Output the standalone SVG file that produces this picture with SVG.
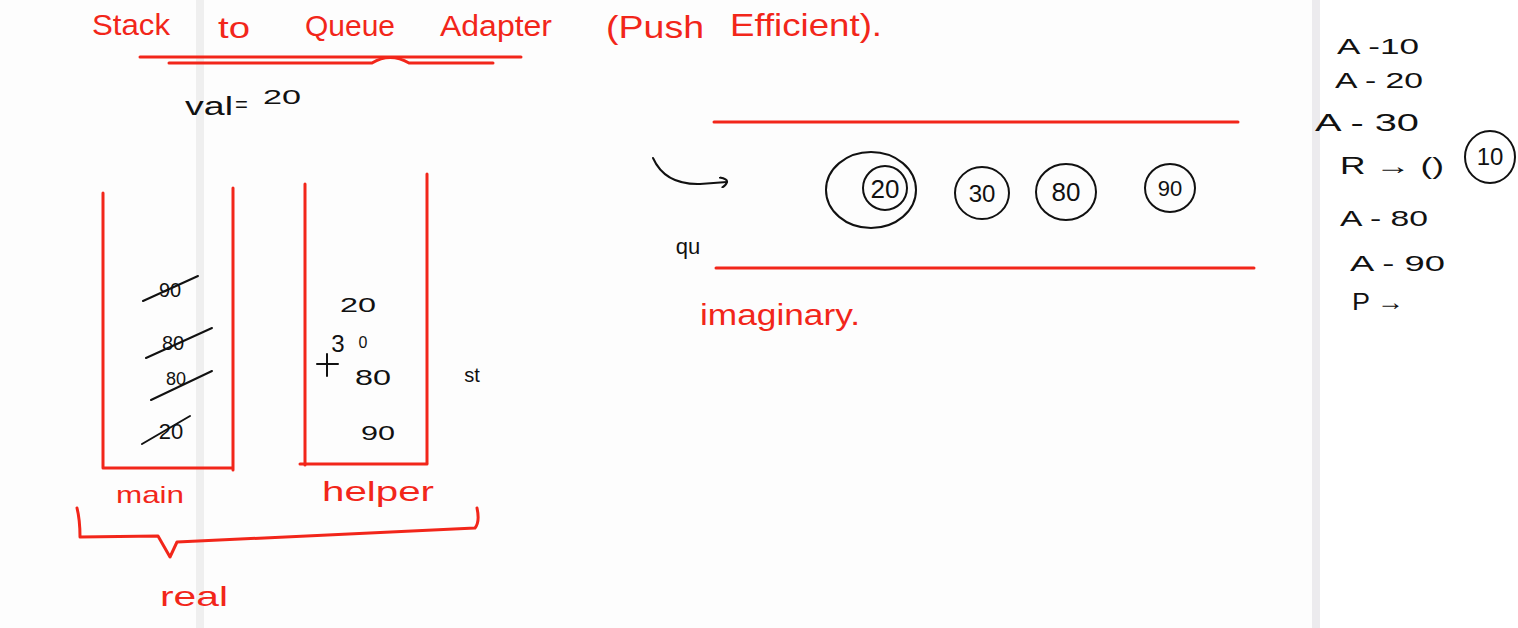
<svg xmlns="http://www.w3.org/2000/svg" width="1518" height="628" viewBox="0 0 1518 628">
<style>
.r{fill:#f2261a;font-family:"Liberation Sans",Arial,sans-serif;}
.k{fill:#111;font-family:"Liberation Sans",Arial,sans-serif;}
.rl{stroke:#f2261a;stroke-width:3;fill:none;stroke-linecap:round;stroke-linejoin:round;}
.kl{stroke:#111;stroke-width:2;fill:none;stroke-linecap:round;stroke-linejoin:round;}
</style>
<defs>
<marker id="hook" markerWidth="10" markerHeight="12" refX="8" refY="6" orient="auto" markerUnits="userSpaceOnUse">
<path d="M1,1 Q9,3 8,6 Q7,9 3,11" fill="none" stroke="#111" stroke-width="2" stroke-linecap="round"/>
</marker>
</defs>
<rect width="1518" height="628" fill="#fdfdfd"/>
<rect x="196" y="0" width="8" height="628" fill="#efefef"/>
<rect x="1312" y="0" width="8" height="628" fill="#ecebee"/>
<rect x="1320" y="0" width="198" height="628" fill="#ffffff"/>

<g id="title">
<text class="r" font-size="30" x="92" y="35" textLength="78" lengthAdjust="spacingAndGlyphs">Stack</text>
<text class="r" font-size="30" x="218" y="38" textLength="32" lengthAdjust="spacingAndGlyphs">to</text>
<text class="r" font-size="30" x="305" y="36" textLength="90" lengthAdjust="spacingAndGlyphs">Queue</text>
<text class="r" font-size="30" x="440" y="36" textLength="112" lengthAdjust="spacingAndGlyphs">Adapter</text>
<text class="r" font-size="32" x="606" y="38" textLength="98" lengthAdjust="spacingAndGlyphs">(Push</text>
<text class="r" font-size="32" x="730" y="36" textLength="152" lengthAdjust="spacingAndGlyphs">Efficient).</text>
<path class="rl" d="M140,57 L521,57"/>
<path class="rl" d="M169,63 L372,63 Q390,52 409,63 L493,63"/>
</g>

<g id="val">
<text class="k" font-size="26" x="185" y="115" textLength="48" lengthAdjust="spacingAndGlyphs">val</text>
<text class="k" font-size="22" x="235" y="112">=</text>
<text class="k" font-size="21" x="263" y="104" textLength="38" lengthAdjust="spacingAndGlyphs">20</text>
</g>

<g id="main-stack">
<path class="rl" d="M103,193 L103,468 L232,468"/>
<path class="rl" d="M233,188 L233,470"/>
<text class="k" font-size="20" x="170" y="297" text-anchor="middle">90</text>
<path class="kl" d="M143,301 L198,276"/>
<text class="k" font-size="20" x="173" y="350" text-anchor="middle">80</text>
<path class="kl" d="M146,358 L212,328"/>
<text class="k" font-size="18" x="176" y="385" text-anchor="middle">80</text>
<path class="kl" d="M151,400 L212,371"/>
<text class="k" font-size="22" x="171" y="439" text-anchor="middle">20</text>
<path class="kl" d="M142,444 L190,416"/>
<text class="r" font-size="24" x="150" y="503" text-anchor="middle" textLength="68" lengthAdjust="spacingAndGlyphs">main</text>
</g>

<g id="helper-stack">
<path class="rl" d="M305,184 L305,465"/>
<path class="rl" d="M300,464 L427,464"/>
<path class="rl" d="M427,174 L427,463"/>
<text class="k" font-size="20" x="358" y="312" text-anchor="middle" textLength="36" lengthAdjust="spacingAndGlyphs">20</text>
<text class="k" font-size="24" x="338" y="352" text-anchor="middle">3</text>
<text class="k" font-size="16" x="363" y="348" text-anchor="middle">0</text>
<path class="kl" d="M317,364 L338,364 M327,354 L327,376"/>
<text class="k" font-size="22" x="373" y="385" text-anchor="middle" textLength="36" lengthAdjust="spacingAndGlyphs">80</text>
<text class="k" font-size="20" x="378" y="440" text-anchor="middle" textLength="34" lengthAdjust="spacingAndGlyphs">90</text>
<text class="k" font-size="20" x="472" y="382" text-anchor="middle">st</text>
<text class="r" font-size="28" x="378" y="501" text-anchor="middle" textLength="112" lengthAdjust="spacingAndGlyphs">helper</text>
</g>

<g id="real-brace">
<path class="rl" d="M77,508 Q80,520 80,537 L158,536 L170,557 L177,542 L475,528 Q480,522 477,508"/>
<text class="r" font-size="28" x="194" y="606" text-anchor="middle" textLength="68" lengthAdjust="spacingAndGlyphs">real</text>
</g>

<g id="queue">
<path class="rl" d="M714,122 L1238,122"/>
<path class="rl" d="M716,268 L1254,268"/>
<text class="k" font-size="22" x="688" y="254" text-anchor="middle">qu</text>
<text class="r" font-size="30" x="700" y="325" textLength="160" lengthAdjust="spacingAndGlyphs">imaginary.</text>
</g>

<g id="q20">
<ellipse class="kl" cx="871" cy="190" rx="45" ry="38"/>
<circle class="kl" cx="885" cy="188" r="22"/>
<text class="k" font-size="26" x="885" y="198" text-anchor="middle">20</text>
</g>
<g id="q30">
<ellipse class="kl" cx="982" cy="193" rx="27" ry="26"/>
<text class="k" font-size="24" x="982" y="202" text-anchor="middle">30</text>
</g>
<g id="q80">
<ellipse class="kl" cx="1066" cy="192" rx="30" ry="28"/>
<text class="k" font-size="26" x="1066" y="201" text-anchor="middle">80</text>
</g>
<g id="q90">
<ellipse class="kl" cx="1170" cy="188" rx="25" ry="24"/>
<text class="k" font-size="22" x="1170" y="196" text-anchor="middle">90</text>
</g>

<g id="connectors">
<path class="kl" d="M653,158 Q665,185 700,184 L727,182" marker-end="url(#hook)"/>
</g>

<g id="ops">
<text class="k" font-size="22" x="1337" y="54" textLength="82" lengthAdjust="spacingAndGlyphs">A -10</text>
<text class="k" font-size="22" x="1335" y="88" textLength="88" lengthAdjust="spacingAndGlyphs">A - 20</text>
<text class="k" font-size="24" x="1315" y="131" textLength="104" lengthAdjust="spacingAndGlyphs">A  - 30</text>
<text class="k" font-size="24" x="1340" y="174" textLength="104" lengthAdjust="spacingAndGlyphs">R → ()</text>
<g id="removed10">
<ellipse class="kl" cx="1490" cy="157" rx="25" ry="26"/>
<text class="k" font-size="24" x="1490" y="165" text-anchor="middle">10</text>
</g>
<text class="k" font-size="22" x="1340" y="226" textLength="88" lengthAdjust="spacingAndGlyphs">A - 80</text>
<text class="k" font-size="22" x="1350" y="271" textLength="95" lengthAdjust="spacingAndGlyphs">A - 90</text>
<text class="k" font-size="24" x="1352" y="310" textLength="52" lengthAdjust="spacingAndGlyphs">P →</text>
</g>
</svg>
